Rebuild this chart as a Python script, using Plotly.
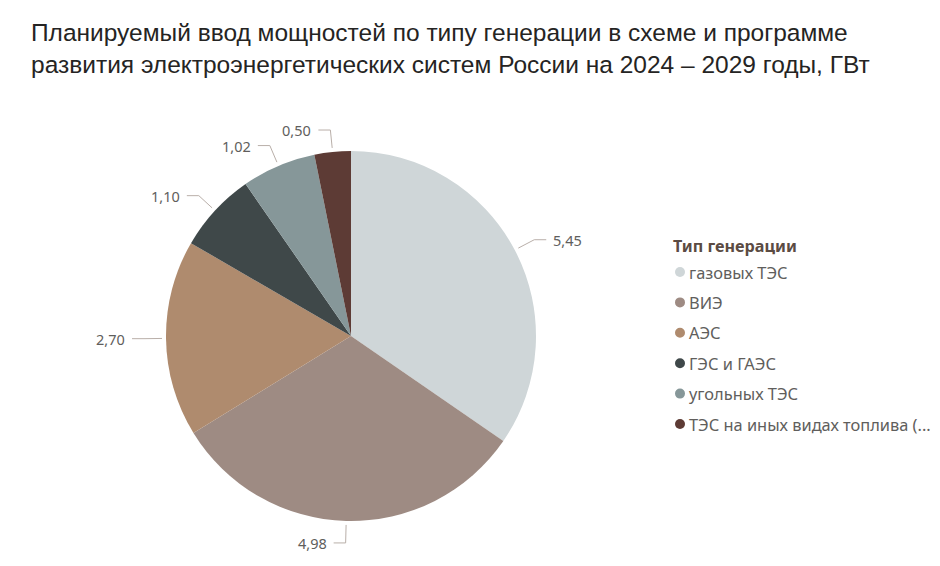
import math
import plotly.graph_objects as go

categories = ["газовых ТЭС", "ВИЭ", "АЭС", "ГЭС и ГАЭС", "угольных ТЭС", "ТЭС на иных видах топлива (..."]
values = [5.45, 4.98, 2.70, 1.10, 1.02, 0.50]
colors = ["#CFD6D8", "#9E8B83", "#AF8B6E", "#3F4849", "#869799", "#5D3B35"]
title_text = "Планируемый ввод мощностей по типу генерации в схеме и программе<br>развития электроэнергетических систем России на 2024 – 2029 годы, ГВт"
legend_title = "Тип генерации"

W, H = 940, 566
OFF = 8  # page body margin
cx, cy, R = 351, 336, 185

def px(x):
    return (x - OFF) / W

def py(y):
    return 1 - (y - OFF) / H

fig = go.Figure()
fig.add_trace(go.Pie(
    labels=categories, values=values, sort=False, direction="clockwise", rotation=0,
    marker=dict(colors=colors, line=dict(width=0)),
    textinfo="none", hoverinfo="label+value", showlegend=False,
    domain=dict(x=[px(cx - R), px(cx + R)], y=[py(cy + R), py(cy - R)]),
))

shapes = []
annotations = []
total = sum(values)
cum = 0.0
line_col = "#B9AFA9"
for v in values:
    th = math.radians((cum + v / 2) / total * 360)
    cum += v
    sx, sy = math.sin(th), -math.cos(th)
    x0, y0 = cx + (R + 4) * sx, cy + (R + 4) * sy
    x1, y1 = cx + (R + 22) * sx, cy + (R + 22) * sy
    side = 1 if sx >= 0 else -1
    x2 = x1 + 12 * side
    shapes.append(dict(type="path", xref="paper", yref="paper",
                       path=f"M {px(x0)} {py(y0)} L {px(x1)} {py(y1)} L {px(x2)} {py(y1)}",
                       line=dict(color=line_col, width=1)))
    annotations.append(dict(x=px(x2 + 5 * side), y=py(y1), xref="paper", yref="paper",
                            text=f"{v:.2f}".replace(".", ","), showarrow=False,
                            xanchor="left" if side > 0 else "right", yanchor="middle",
                            font=dict(family="Noto Sans", size=14.5, color="#605E5C")))

# title
annotations.append(dict(x=px(29), y=py(17), xref="paper", yref="paper", text=title_text,
                        showarrow=False, xanchor="left", yanchor="top", align="left",
                        font=dict(family="Liberation Sans", size=24.5, color="#252423")))

# legend
annotations.append(dict(x=px(671), y=py(246), xref="paper", yref="paper",
                        text=f"<b>{legend_title}</b>", showarrow=False,
                        xanchor="left", yanchor="middle",
                        font=dict(family="Noto Sans", size=16.2, color="#5B4B43")))
for i, (c, col) in enumerate(zip(categories, colors)):
    yy = 272 + 30.4 * i
    shapes.append(dict(type="circle", xref="paper", yref="paper",
                       x0=px(675), x1=px(685), y0=py(yy + 5), y1=py(yy - 5),
                       fillcolor=col, line=dict(width=0)))
    annotations.append(dict(x=px(687), y=py(yy), xref="paper", yref="paper", text=c,
                            showarrow=False, xanchor="left", yanchor="middle",
                            font=dict(family="Noto Sans", size=16.4, color="#605E5C")))

fig.update_layout(width=W, height=H, margin=dict(l=0, r=0, t=0, b=0),
                  paper_bgcolor="white", plot_bgcolor="white",
                  shapes=shapes, annotations=annotations, showlegend=False)
fig.write_html("out.html")
